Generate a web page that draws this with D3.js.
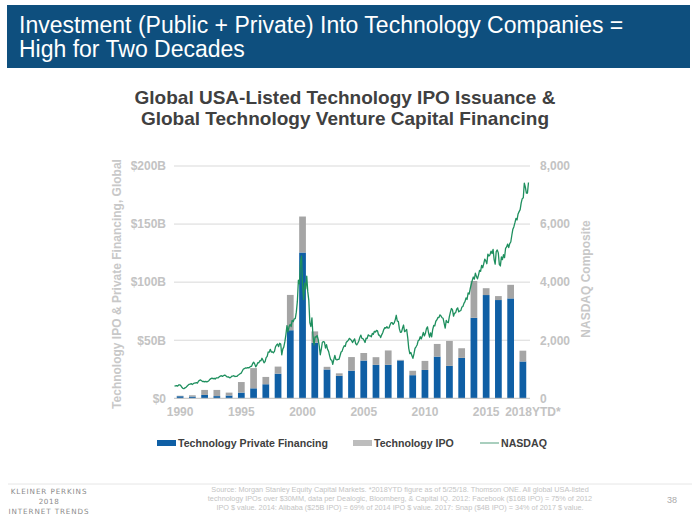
<!DOCTYPE html>
<html><head><meta charset="utf-8">
<script src="https://cdn.jsdelivr.net/npm/d3@7"></script>
<style>
html,body{margin:0;padding:0;background:#fff;}
svg{display:block;font-family:"Liberation Sans",Arial,sans-serif;}
</style></head>
<body>
<svg id="chart" width="700" height="525"></svg>
<script>
// ---------- data ----------
const years = d3.range(1990, 2019);
// Technology Private Financing ($B)
const privateFinancing = [1.8,1.5,2.9,1.9,2.4,4.9,8.6,12.1,21.2,58.6,125.5,47.8,24.8,19.4,23.8,32.5,28.8,28.8,32.6,19.9,24.4,35.9,27.9,34.8,69.3,88.9,84.6,86.0,31.7];
// Technology IPO ($B)
const techIPO = [0.4,1.1,4.3,5.3,2.5,9.1,17.4,6.3,6.1,30.4,31.0,9.8,2.3,2.1,11.7,6.5,6.6,12.4,0.5,3.8,7.8,10.9,21.5,8.3,31.7,5.9,3.4,11.7,9.3];
// NASDAQ Composite, monthly, Jan 1990 - May 2018
const nasdaq = [
 416,426,436,420,459,462,438,381,345,330,359,374,
 414,453,482,485,506,476,502,526,527,543,524,586,
 620,634,604,579,585,564,581,563,583,605,653,677,
 696,671,690,661,701,704,705,743,763,779,754,777,
 801,793,744,734,735,706,722,766,764,778,750,752,
 755,794,817,844,865,934,1001,1020,1044,1036,1059,1052,
 1060,1100,1101,1191,1243,1185,1081,1142,1227,1222,1293,1291,
 1380,1309,1222,1261,1400,1442,1594,1587,1686,1594,1601,1570,
 1619,1771,1836,1868,1779,1895,1872,1499,1694,1771,1950,2193,
 2506,2288,2461,2543,2471,2686,2639,2739,2746,2966,3336,4069,
 3940,4697,4900,3861,3401,3966,3767,4206,3673,3370,2598,2471,
 2773,2152,1840,2116,2111,2161,2027,1805,1499,1690,1931,1950,
 1934,1732,1845,1688,1616,1463,1328,1315,1172,1330,1479,1336,
 1321,1338,1341,1464,1596,1623,1735,1811,1787,1932,1960,2003,
 2066,2030,1994,1920,1987,2048,1887,1838,1897,1975,2097,2175,
 2062,2052,1999,1922,2068,2057,2185,2152,2152,2120,2233,2205,
 2306,2281,2340,2323,2179,2172,2092,2184,2258,2367,2432,2415,
 2464,2416,2422,2525,2605,2603,2546,2596,2702,2859,2661,2652,
 2390,2272,2279,2413,2523,2293,2326,2368,2092,1721,1536,1577,
 1476,1378,1529,1717,1774,1835,1979,2009,2122,2045,2145,2269,
 2147,2238,2398,2461,2257,2109,2255,2114,2369,2507,2498,2653,
 2700,2782,2781,2874,2835,2774,2756,2580,2415,2684,2620,2605,
 2814,2967,3092,3046,2827,2935,2940,3067,3116,2977,3010,3020,
 3142,3160,3268,3329,3456,3403,3626,3590,3772,3920,4060,4177,
 4104,4308,4199,4115,4243,4408,4370,4580,4493,4631,4792,4736,
 4635,4964,4901,4941,5070,4987,5128,4777,4620,5054,5109,5007,
 4614,4558,4870,4775,4948,4843,5162,5213,5312,5189,5324,5383,
 5615,5825,5912,6048,6199,6140,6348,6429,6496,6728,6874,6903,
 7412,7273,7063,7066,7433
];
const leftTickValues = [0,50,100,150,200];
const leftTickLabels = ["$0","$50B","$100B","$150B","$200B"];
const rightTickValues = [0,2000,4000,6000,8000];
const rightTickLabels = ["0","2,000","4,000","6,000","8,000"];
const xTickYears = [1990,1995,2000,2005,2010,2015,2018];
const xTickLabels = ["1990","1995","2000","2005","2010","2015","2018YTD*"];
const seriesNames = ["Technology Private Financing","Technology IPO","NASDAQ"];
const headerLines = ["Investment (Public + Private) Into Technology Companies =","High for Two Decades"];
const titleLines = ["Global USA-Listed Technology IPO Issuance &","Global Technology Venture Capital Financing"];
const sourceLines = [
 "Source: Morgan Stanley Equity Capital Markets. *2018YTD figure as of 5/25/18. Thomson ONE. All global USA-listed",
 "technology IPOs over $30MM, data per Dealogic, Bloomberg, & Capital IQ. 2012: Facebook ($16B IPO) = 75% of 2012",
 "IPO $ value. 2014: Alibaba ($25B IPO) = 69% of 2014 IPO $ value. 2017: Snap ($4B IPO) = 34% of 2017 $ value."
];

// ---------- style ----------
const C = {header:"#0e4f7e", blue:"#0f5fa5", grey:"#a5a5a5", green:"#1e8f5e",
           axis:"#c3c3c3", grid:"#d9d9d9", title:"#404040"};

const svg = d3.select("#chart");

// header
svg.append("rect").attr("x",7).attr("y",5).attr("width",683).attr("height",63).attr("fill",C.header);
svg.selectAll("text.hdr").data(headerLines).join("text").attr("class","hdr")
  .attr("x",19).attr("y",(d,i)=>33+i*24).attr("fill","#fff")
  .style("font-size","23px").text(d=>d);

// chart title
svg.selectAll("text.ttl").data(titleLines).join("text").attr("class","ttl")
  .attr("x",345).attr("y",(d,i)=>104+i*21).attr("text-anchor","middle")
  .attr("fill",C.title).style("font-size","19px").style("font-weight","bold").text(d=>d);

// scales
const x = d3.scaleBand().domain(years).range([174,529]).paddingInner(0.45).paddingOuter(0.225);
const yL = d3.scaleLinear().domain([0,200]).range([398.3,166]);
const yR = d3.scaleLinear().domain([0,8000]).range([398.3,166]);
const xLine = d3.scaleLinear().domain([1990, 2018+5/12]).range([174,529]);

// gridlines
svg.append("g").selectAll("line").data(leftTickValues.filter(v=>v>0)).join("line")
  .attr("x1",174).attr("x2",530).attr("y1",d=>yL(d)).attr("y2",d=>yL(d))
  .attr("stroke",C.grid).attr("stroke-width",1);

// bars
const rows = years.map((yr,i)=>({year:yr, priv:privateFinancing[i], ipo:techIPO[i]}));
const stack = d3.stack().keys(["priv","ipo"])(rows);
const colors = {priv:C.blue, ipo:C.grey};
svg.append("g").selectAll("g").data(stack).join("g").attr("fill",d=>colors[d.key])
  .selectAll("rect").data(d=>d).join("rect")
  .attr("x",d=>x(d.data.year)).attr("width",x.bandwidth())
  .attr("y",d=>yL(d[1])).attr("height",d=>yL(d[0])-yL(d[1]));

// baseline
svg.append("line").attr("x1",174).attr("x2",530).attr("y1",yL(0)).attr("y2",yL(0))
  .attr("stroke","#bfbfbf").attr("stroke-width",1);

// NASDAQ line
const line = d3.line().x((d,i)=>xLine(1990+(i+0.5)/12)).y(d=>yR(d));
svg.append("path").datum(nasdaq).attr("d",line).attr("fill","none")
  .attr("stroke",C.green).attr("stroke-width",1.3).attr("stroke-linejoin","round");

// axes
const axL = d3.axisLeft(yL).tickValues(leftTickValues).tickFormat((d,i)=>leftTickLabels[i]).tickSize(0).tickPadding(0);
const gL = svg.append("g").attr("transform","translate(166,0)").call(axL);
const axR = d3.axisRight(yR).tickValues(rightTickValues).tickFormat((d,i)=>rightTickLabels[i]).tickSize(0).tickPadding(0);
const gR = svg.append("g").attr("transform","translate(540,0)").call(axR);
const axB = d3.axisBottom(x).tickValues(xTickYears).tickFormat(d=>xTickLabels[xTickYears.indexOf(d)]).tickSize(0).tickPadding(0);
const gB = svg.append("g").attr("transform","translate(0,407)").call(axB);
[gL,gR,gB].forEach(g=>{
  g.select(".domain").remove();
  g.selectAll("text").attr("fill",C.axis).style("font-size","12px").style("font-weight","bold")
   .style("font-family","'Liberation Sans',Arial,sans-serif");
});
gB.selectAll(".tick").filter(d=>d===2018).select("text").attr("dx",10);

// axis titles
svg.append("text").attr("transform","translate(121,284) rotate(-90)").attr("text-anchor","middle")
  .attr("fill","#c8c8c8").style("font-size","12px").style("font-weight","bold")
  .text("Technology IPO & Private Financing, Global");
svg.append("text").attr("transform","translate(590,279) rotate(-90)").attr("text-anchor","middle")
  .attr("fill","#c8c8c8").style("font-size","12px").style("font-weight","bold")
  .text("NASDAQ Composite");

// legend
const lg = svg.append("g").style("font-size","10.6px").style("font-weight","bold").attr("fill","#404040");
const legendX = [157,353,480];
seriesNames.forEach((name,i)=>{
  const g = lg.append("g").attr("transform",`translate(${legendX[i]},443)`);
  if(i<2) g.append("rect").attr("x",0).attr("y",-3).attr("width",19).attr("height",6).attr("fill",i==0?C.blue:"#bdbdbd");
  else g.append("line").attr("x1",0).attr("x2",19).attr("y1",0).attr("y2",0).attr("stroke","#8dbfa8").attr("stroke-width",1.5);
  g.append("text").attr("x",21).attr("y",4).text(name);
});

// footer
svg.append("line").attr("x1",8).attr("x2",692).attr("y1",484).attr("y2",484).attr("stroke","#e6e6e6");
const kp = svg.append("g").attr("fill","#8a8a8a").style("font-family","'DejaVu Sans',sans-serif").style("font-size","7.2px").attr("text-anchor","middle");
kp.append("text").attr("x",49).attr("y",494).style("letter-spacing","0.9px").text("KLEINER PERKINS");
kp.append("text").attr("x",49).attr("y",504).style("letter-spacing","0.6px").text("2018");
kp.append("text").attr("x",49).attr("y",514).style("letter-spacing","0.9px").text("INTERNET TRENDS");
svg.selectAll("text.src").data(sourceLines).join("text").attr("class","src")
  .attr("x",400).attr("y",(d,i)=>492+i*9).attr("text-anchor","middle")
  .attr("fill","#c4c4c4").style("font-size","7.3px").text(d=>d);
svg.append("text").attr("x",672).attr("y",503).attr("text-anchor","middle").attr("fill","#aaa")
  .style("font-size","9px").text("38");
</script>
</body></html>
